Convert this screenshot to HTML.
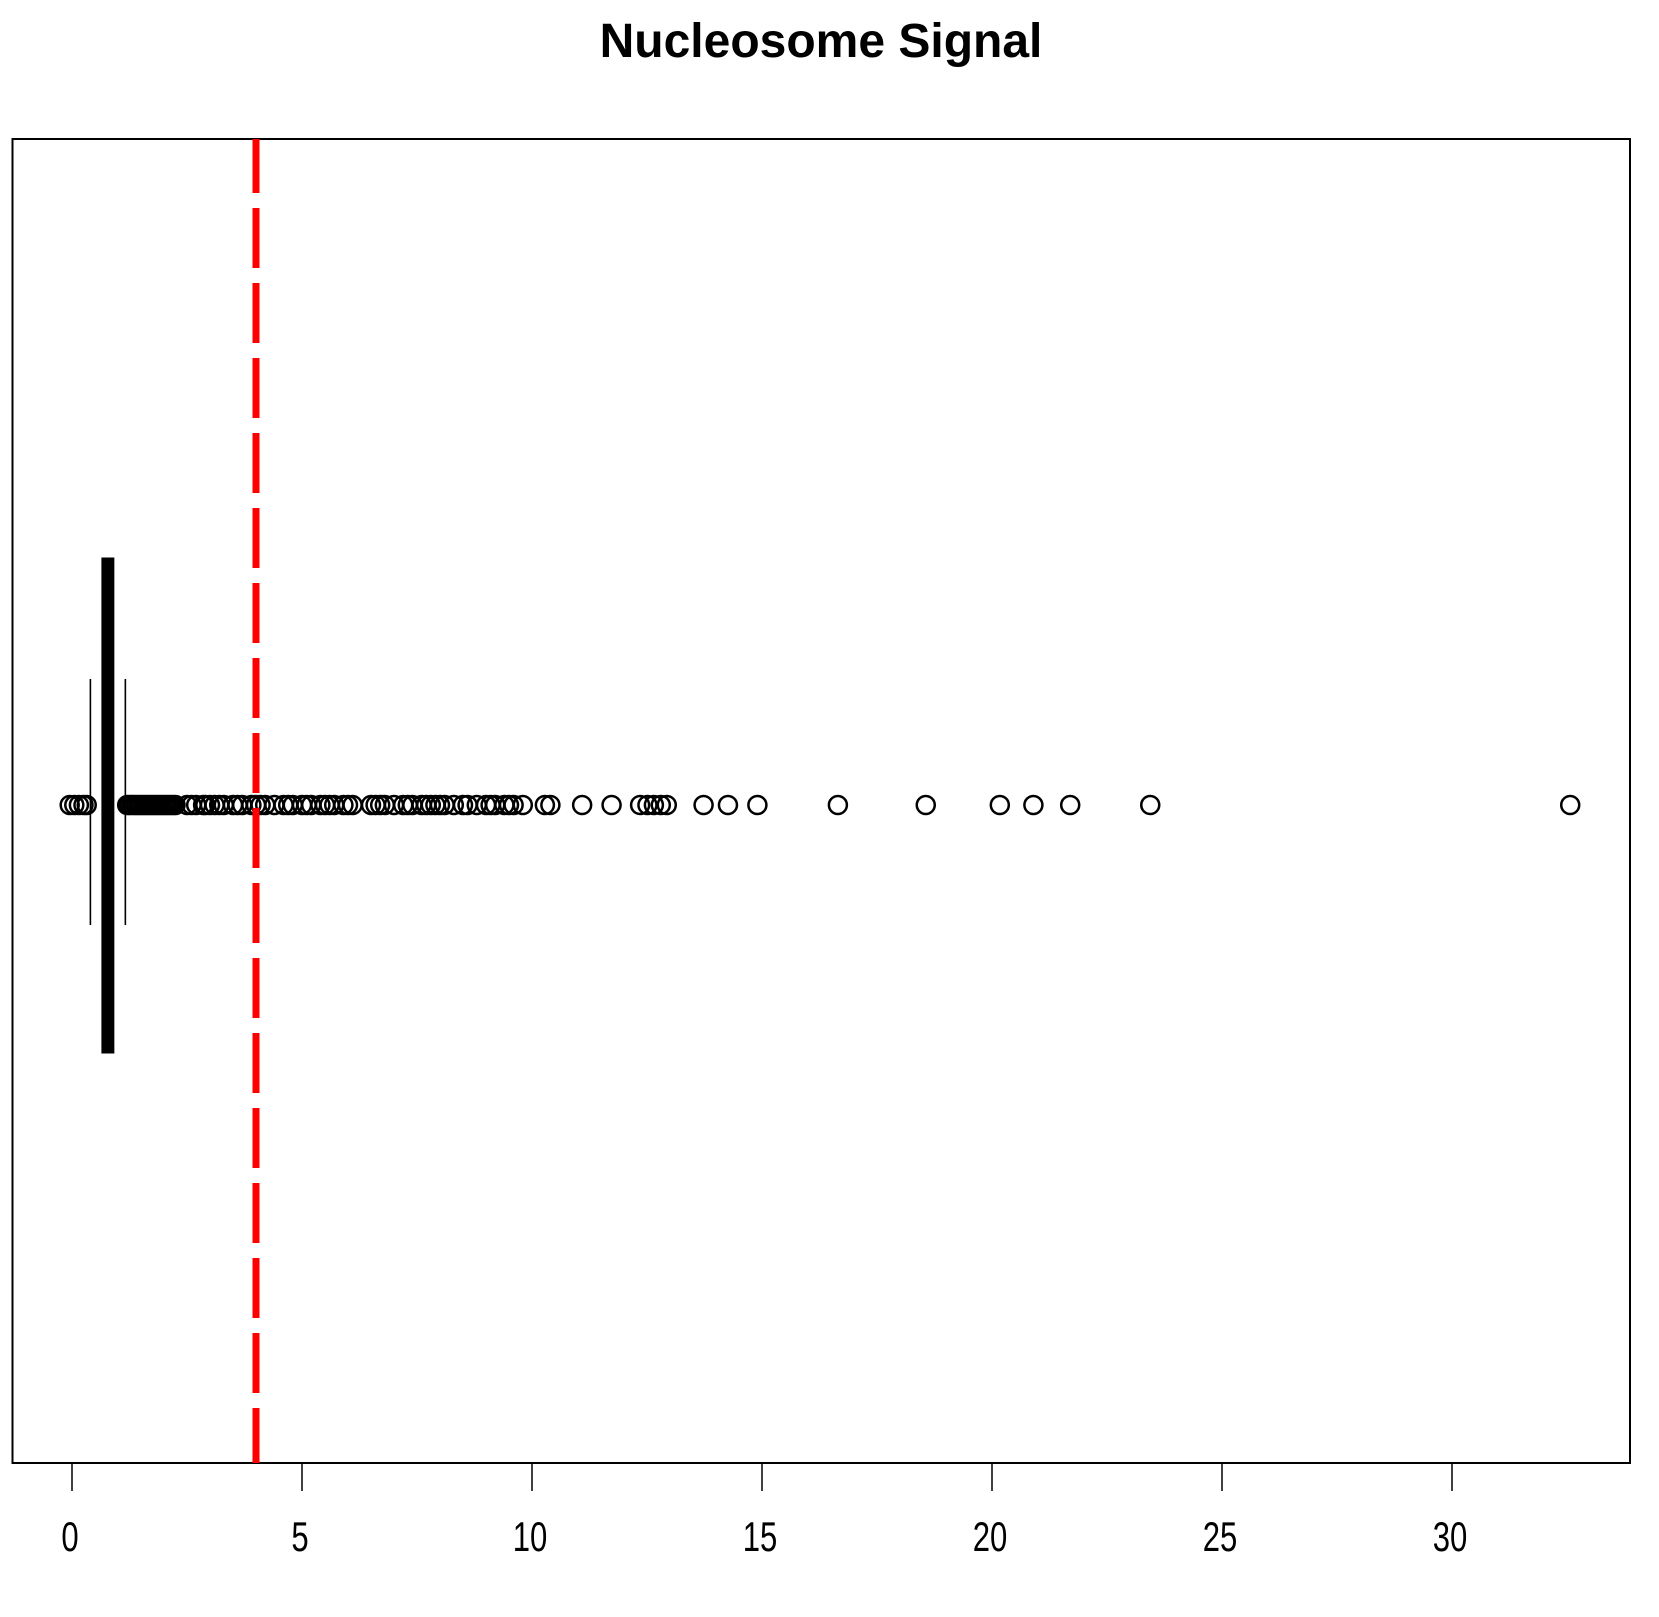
<!DOCTYPE html>
<html><head><meta charset="utf-8"><style>
html,body{margin:0;padding:0;background:#fff;}
svg{display:block;}
text{font-family:"Liberation Sans",sans-serif;}
</style></head><body>
<svg id="chart" width="1659" height="1617" xmlns="http://www.w3.org/2000/svg">
<rect width="1659" height="1617" fill="#fff"/>
<text x="821" y="57" text-anchor="middle" font-size="48" font-weight="bold">Nucleosome Signal</text>
<rect x="12.5" y="139" width="1617.5" height="1324" fill="none" stroke="#000" stroke-width="2"/>
<g id="axis"></g>
<g id="marks"></g>
</svg>
<script>
const tickValues = [0,5,10,15,20,25,30];
const tickLabels = ["0","5","10","15","20","25","30"];
const boxStats = [0.4, 0.65, 0.78, 0.91, 1.16]; // lower whisker, Q1, median, Q3, upper whisker
const thresholdValue = [4];
const outliers = [-0.05,0.05,0.15,0.25,0.32,
 1.2,1.25,1.3,1.35,1.4,1.45,1.5,1.55,1.6,1.65,1.7,1.75,1.8,1.85,1.9,1.95,2.0,2.05,2.1,2.15,2.2,2.25,
 2.5,2.6,2.7,2.85,2.9,3.0,3.1,3.2,3.3,3.5,3.6,3.7,3.9,4.0,4.1,4.2,4.4,4.6,4.7,4.8,5.0,5.1,5.2,5.4,5.5,5.6,5.7,5.9,6.0,6.1,
 6.5,6.6,6.7,6.8,7.0,7.2,7.3,7.4,7.6,7.7,7.8,7.9,8.0,8.1,8.3,8.5,8.6,8.8,9.0,9.1,9.2,9.4,9.5,9.6,9.8,
 10.28,10.4,11.09,11.73,12.35,12.51,12.65,12.8,12.93,13.73,14.26,14.9,16.65,18.56,20.17,20.9,21.7,23.44,32.57];

const NS="http://www.w3.org/2000/svg";
const x0=72, pxPerUnit=46;
function xs(v){return x0+v*pxPerUnit;}
const cy=805, plotTop=139, plotBottom=1463;
function mk(tag,attrs,parent){const e=document.createElementNS(NS,tag);for(const k in attrs)e.setAttribute(k,attrs[k]);parent.appendChild(e);return e;}
const axis=document.getElementById('axis'), marks=document.getElementById('marks');

let al=mk('line',{x1:xs(tickValues[0]),x2:xs(tickValues[tickValues.length-1]),y1:plotBottom,y2:plotBottom,stroke:'#000','stroke-width':2},axis);


tickValues.forEach((v,i)=>{
  const t=mk('line',{x1:xs(v),x2:xs(v),y1:plotBottom,y2:1491,stroke:'#000','stroke-width':1.5},axis);
  
  
  const lb=mk('text',{x:0,y:0,'text-anchor':'middle','font-size':42,transform:`translate(${xs(v)-2},1551) scale(0.74,1)`},axis);
  lb.textContent=tickLabels[i];
  
  
});

outliers.forEach(v=>{
  const c=mk('circle',{cx:xs(v),cy:cy,r:9,fill:'none',stroke:'#000','stroke-width':2.5},marks);
  
  
});

const bx=mk('rect',{x:xs(boxStats[1]),y:558,width:xs(boxStats[3])-xs(boxStats[1]),height:495,fill:'#000',stroke:'#000','stroke-width':1},marks);


const md=mk('line',{x1:xs(boxStats[2]),x2:xs(boxStats[2]),y1:558,y2:1053,stroke:'#000','stroke-width':6},marks);


[boxStats[0],boxStats[4]].forEach(v=>{
  const s=mk('line',{x1:xs(v),x2:xs(v),y1:679,y2:925,stroke:'#000','stroke-width':1.6},marks);
  
  
});

const rl=mk('line',{x1:xs(thresholdValue[0]),x2:xs(thresholdValue[0]),y1:133,y2:plotBottom,stroke:'#ff0000','stroke-width':7,'stroke-dasharray':'60 15'},marks);


rl.setAttribute('clip-path','url(#pclip)');
const defs=mk('defs',{},document.getElementById('chart'));
const cp=mk('clipPath',{id:'pclip'},defs);
mk('rect',{x:12,y:139,width:1620,height:1324},cp);
</script>
</body></html>
